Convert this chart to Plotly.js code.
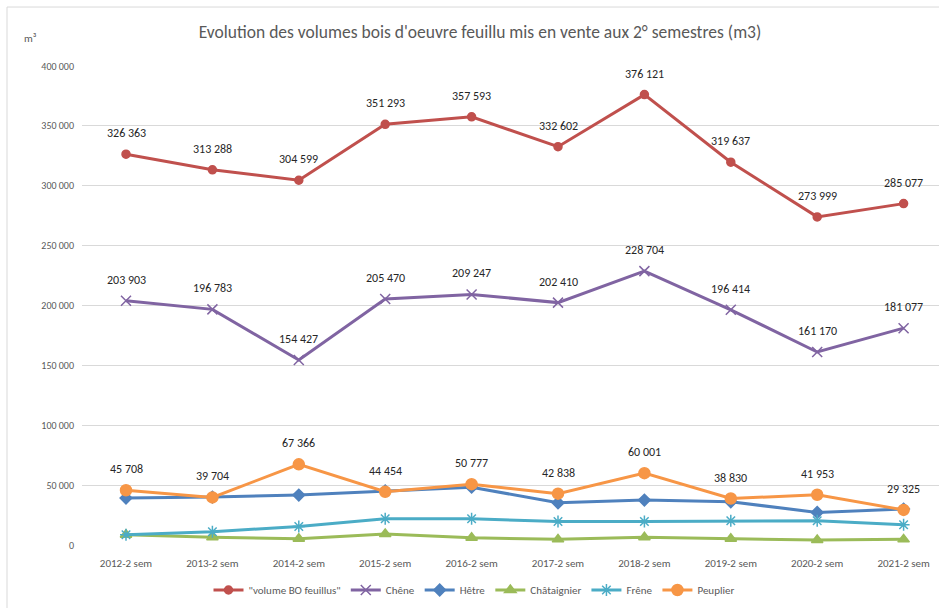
<!DOCTYPE html>
<html>
<head>
<meta charset="utf-8">
<script src="https://cdn.plot.ly/plotly-3.0.1.min.js"></script>
<style>
html,body{margin:0;padding:0;background:#fff;}
#chart{width:939px;height:608px;}
</style>
</head>
<body>
<div id="chart"></div>
<script>
const categories = ["2012-2 sem","2013-2 sem","2014-2 sem","2015-2 sem","2016-2 sem","2017-2 sem","2018-2 sem","2019-2 sem","2020-2 sem","2021-2 sem"];
const volumeBO = [326363, 313288, 304599, 351293, 357593, 332602, 376121, 319637, 273999, 285077];
const chene = [203903, 196783, 154427, 205470, 209247, 202410, 228704, 196414, 161170, 181077];
const hetre = [39200, 40000, 41700, 45200, 48300, 35200, 37500, 36100, 27200, 30000];
const chataignier = [8500, 6400, 5200, 9200, 6100, 4700, 6400, 5200, 4200, 4700];
const frene = [8600, 11100, 15500, 21900, 21900, 19700, 19700, 20200, 20200, 16900];
const peuplier = [45708, 39704, 67366, 44454, 50777, 42838, 60001, 38830, 41953, 29325];
const yTicks = [0, 50000, 100000, 150000, 200000, 250000, 300000, 350000, 400000];

const FONT = "Calibri, Carlito, 'Liberation Sans Narrow', 'Open Sans', sans-serif";

function fmt(v){
  return String(v).replace(/\B(?=(\d{3})+(?!\d))/g, "\u00a0");
}

function line(name, y, color, symbol, size, extra){
  return Object.assign({
    type: "scatter", mode: "lines+markers", name: name,
    x: categories, y: y,
    line: {color: color, width: 3},
    marker: {color: color, symbol: symbol, size: size, line: {color: color, width: 1.5}},
    cliponaxis: false
  }, extra || {});
}

const traces = [
  line('"volume BO feuillus"', volumeBO, "#C0504D", "circle", 8),
  line("Chêne", chene, "#8064A2", "x-thin-open", 10),
  line("Hêtre", hetre, "#4F81BD", "diamond", 9),
  line("Châtaignier", chataignier, "#9BBB59", "triangle-up", 10),
  line("Frêne", frene, "#4BACC6", "asterisk-open", 10),
  line("Peuplier", peuplier, "#F79646", "circle", 11)
];

const annotations = [];
[volumeBO, chene, peuplier].forEach(function(series){
  series.forEach(function(v, i){
    annotations.push({
      x: categories[i], y: v, xref: "x", yref: "y",
      text: fmt(v), showarrow: false, yshift: 21,
      font: {family: FONT, size: 12, color: "#262626"}
    });
  });
});
annotations.push({
  xref: "paper", yref: "paper", x: (30 - 82) / 857, y: 1 + (66 - 38) / 479.3,
  text: "m\u00b3", showarrow: false, xanchor: "center", yanchor: "middle",
  font: {family: FONT, size: 11, color: "#595959"}
});

const layout = {
  width: 939, height: 608,
  margin: {l: 82, r: 0, t: 66, b: 63},
  paper_bgcolor: "#fff", plot_bgcolor: "#fff",
  separators: ", ",
  font: {family: FONT, color: "#595959"},
  title: {
    text: "Evolution des volumes bois d'oeuvre feuillu mis en vente aux 2° semestres (m3)",
    font: {family: FONT, size: 17.5, color: "#595959"},
    x: 480 / 939, xanchor: "center", xref: "container",
    y: 1 - 32 / 608, yanchor: "middle", yref: "container"
  },
  xaxis: {
    type: "category",
    range: [(82 - 126) / 86.4, (939 - 126) / 86.4],
    showgrid: false, zeroline: false, showline: false,
    ticks: "", ticklabelstandoff: 10,
    tickfont: {family: FONT, size: 11, color: "#595959"}
  },
  yaxis: {
    range: [0, 400000],
    tickvals: yTicks,
    ticktext: yTicks.map(fmt),
    showgrid: true, gridcolor: "#D9D9D9", gridwidth: 1,
    zeroline: false, showline: false, ticks: "",
    ticklabelstandoff: 7,
    tickfont: {family: FONT, size: 10, color: "#595959"}
  },
  showlegend: true,
  legend: {
    orientation: "h",
    xref: "container", yref: "container",
    x: 474 / 939, xanchor: "center",
    y: 1 - 590 / 608, yanchor: "middle",
    font: {family: FONT, size: 11, color: "#595959"},
    itemwidth: 30, tracegroupgap: 0
  },
  shapes: [{
    type: "rect", xref: "paper", yref: "paper", layer: "below",
    x0: (7 - 82) / 857, x1: 1.05,
    y0: -0.2, y1: 1 + (66 - 7) / 479.3,
    line: {color: "#D9D9D9", width: 1}
  }],
  annotations: annotations
};

Plotly.newPlot("chart", traces, layout, {displayModeBar: false, staticPlot: true});
</script>
</body>
</html>
